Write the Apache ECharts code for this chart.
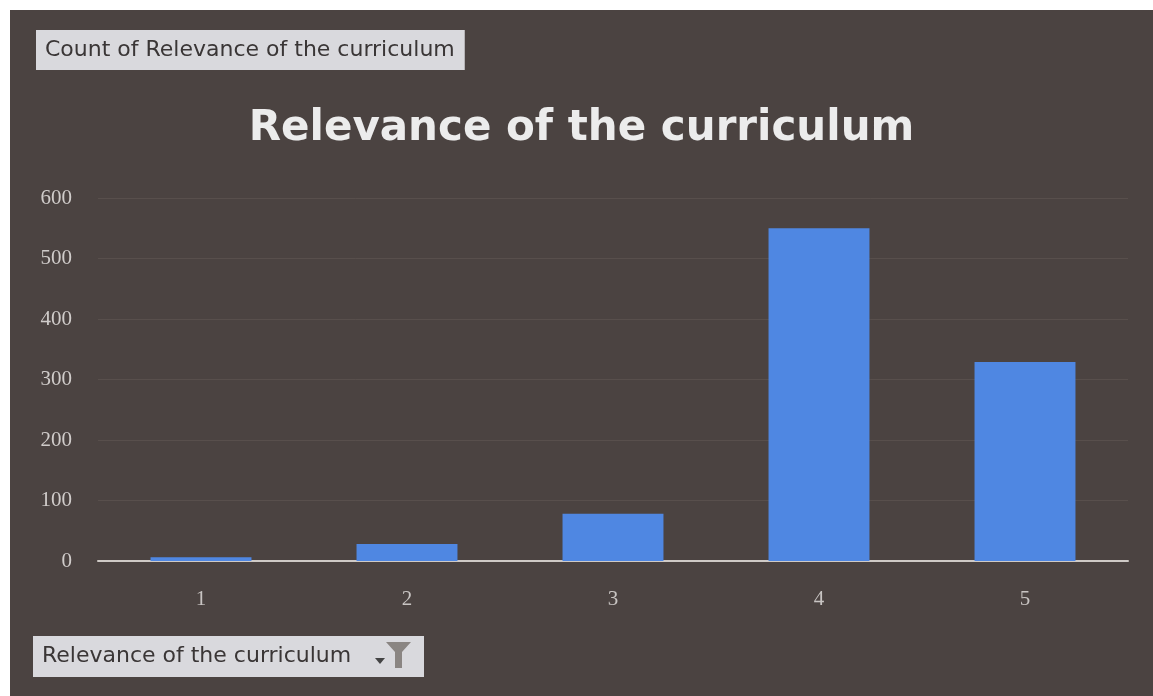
<!DOCTYPE html>
<html>
<head>
<meta charset="utf-8">
<script src="https://cdn.jsdelivr.net/npm/echarts@6/dist/echarts.min.js"></script>
<style>
html,body{margin:0;padding:0;background:#ffffff;width:1153px;height:696px;overflow:hidden;}
#c{position:absolute;left:10px;top:10px;width:1143px;height:686px;}
</style>
</head>
<body>
<div id="c"></div>
<script>
const chartTitle = 'Relevance of the curriculum';
const valueFieldLabel = 'Count of Relevance of the curriculum';
const axisFieldLabel = 'Relevance of the curriculum';
const categories = ['1', '2', '3', '4', '5'];
const counts = [6, 28, 78, 550, 329];
const yTicks = [0, 100, 200, 300, 400, 500, 600];

const chart = echarts.init(document.getElementById('c'));
chart.setOption({
  backgroundColor: '#4b4341',
  animation: false,
  title: {
    text: chartTitle,
    left: 'center',
    top: 93,
    textStyle: {color: '#ececec', fontSize: 42, fontWeight: 'bold', fontFamily: 'DejaVu Sans'}
  },
  grid: {left: 88, right: 25, top: 188, bottom: 135, containLabel: false},
  xAxis: {
    type: 'category',
    data: categories,
    axisLine: {lineStyle: {color: '#cfcac6', width: 2}},
    axisTick: {show: false},
    axisLabel: {color: '#c8c4c2', fontSize: 21, fontFamily: 'Liberation Serif', margin: 28}
  },
  yAxis: {
    type: 'value',
    min: yTicks[0],
    max: yTicks[yTicks.length - 1],
    interval: yTicks[1] - yTicks[0],
    axisLine: {show: false},
    axisTick: {show: false},
    splitLine: {lineStyle: {color: 'rgba(150,140,130,0.18)', width: 1}},
    axisLabel: {color: '#d0ccca', fontSize: 21, fontFamily: 'Liberation Serif', margin: 26}
  },
  series: [{
    type: 'bar',
    data: counts,
    barWidth: '49%',
    itemStyle: {color: '#4f87e2'}
  }],
  graphic: [
    {
      type: 'text', left: 26, top: 20,
      style: {
        text: valueFieldLabel, fill: '#3a3636', font: '22px "DejaVu Sans"',
        backgroundColor: '#d9d9dd', padding: [9, 10, 9, 9]
      }
    },
    {
      type: 'rect', left: 23, top: 626,
      shape: {width: 391, height: 41},
      style: {fill: '#d9d9dd'}
    },
    {
      type: 'text', left: 32, top: 635,
      style: {text: axisFieldLabel, fill: '#3a3636', font: '22px "DejaVu Sans"'}
    },
    {
      type: 'polygon',
      shape: {points: [[365, 648], [375, 648], [370, 654]]},
      style: {fill: '#444'}
    },
    {
      type: 'polygon',
      shape: {points: [[376, 632], [401, 632], [392, 642], [392, 658], [385, 658], [385, 642]]},
      style: {fill: '#8a8582'}
    }
  ]
});
</script>
</body>
</html>
